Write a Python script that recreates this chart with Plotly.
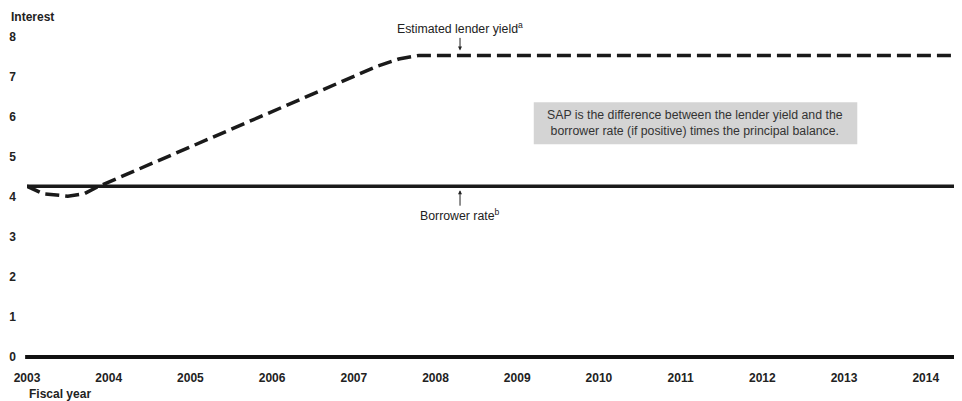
import plotly.graph_objects as go

# ---- data ----
years_ticks = list(range(2003, 2015))
tick_labels = [str(y) for y in years_ticks]
y_ticks = list(range(0, 9))

borrower_x = [2003.0, 2014.45]
borrower_y = [4.27, 4.27]

lender_x = [2003.0, 2003.2, 2003.5, 2003.7, 2003.86, 2005.0, 2006.0, 2007.0, 2007.3, 2007.55, 2007.8, 2014.45]
lender_y = [4.27, 4.08, 4.02, 4.08, 4.25, 5.25, 6.13, 7.02, 7.28, 7.45, 7.54, 7.54]

label_year = 2008.3

FONT = "Liberation Sans, Arial, sans-serif"
TXT = 12.3

fig = go.Figure()
fig.add_trace(go.Scatter(x=borrower_x, y=borrower_y, mode="lines",
                         line=dict(color="#1a1a1a", width=3.5), hoverinfo="skip"))
fig.add_trace(go.Scatter(x=lender_x, y=lender_y, mode="lines",
                         line=dict(color="#1a1a1a", width=3.5, dash="14px,6px"), hoverinfo="skip"))

annotations = [
    dict(text="<b>Interest</b>", xref="paper", yref="paper", x=-0.0193, y=0.9994,
         xanchor="left", yanchor="middle", showarrow=False, font=dict(size=12, color="#222")),
    dict(text="<b>Fiscal year</b>", xref="paper", yref="paper", x=0.0, y=-0.098,
         xanchor="left", yanchor="middle", showarrow=False, font=dict(size=12, color="#222")),
    dict(text="Estimated lender yield<sup>a</sup>", xref="x", yref="y",
         x=label_year, y=lender_y[-1], ax=0, ay=-27, showarrow=True,
         arrowhead=2, arrowsize=0.8, arrowwidth=1, arrowcolor="#222", standoff=5,
         font=dict(size=TXT, color="#222")),
    dict(text="Borrower rate<sup>b</sup>", xref="x", yref="y",
         x=label_year, y=borrower_y[0], ax=0, ay=29, showarrow=True,
         arrowhead=2, arrowsize=0.8, arrowwidth=1, arrowcolor="#222", standoff=4,
         font=dict(size=TXT, color="#222")),
    dict(text="SAP is the difference between the lender yield and the<br>borrower rate (if positive) times the principal balance.",
         xref="paper", yref="paper", x=0.7145, y=0.690, xanchor="center", yanchor="middle",
         showarrow=False, font=dict(size=TXT, color="#333")),
]

shapes = [
    dict(type="rect", xref="paper", yref="paper", x0=0.542, x1=0.888, y0=0.629, y1=0.7516,
         fillcolor="#d4d4d4", line=dict(width=0), layer="below"),
    dict(type="line", xref="paper", yref="y", x0=-0.002, x1=1.0, y0=0, y1=0,
         line=dict(color="#111", width=4)),
]

fig.update_layout(
    width=962, height=401,
    margin=dict(l=19, r=8, t=9, b=49),
    paper_bgcolor="white", plot_bgcolor="white",
    showlegend=False,
    font=dict(family=FONT, size=12, color="#222"),
    annotations=annotations,
    shapes=shapes,
    xaxis=dict(range=[2003, 2014.444], tickvals=years_ticks, ticktext=[f"<b>{t}</b>" for t in tick_labels],
               showgrid=False, zeroline=False, showline=False, automargin=False,
               ticks="", ticklabelstandoff=9, fixedrange=True, tickfont=dict(size=12)),
    yaxis=dict(range=[-0.075, 8.5], tickvals=y_ticks, ticktext=[f"<b>{v}</b>" for v in y_ticks],
               showgrid=False, zeroline=False, showline=False, automargin=False,
               ticks="", ticklabelstandoff=10, fixedrange=True, tickfont=dict(size=12)),
)

fig.write_html("out.html")
